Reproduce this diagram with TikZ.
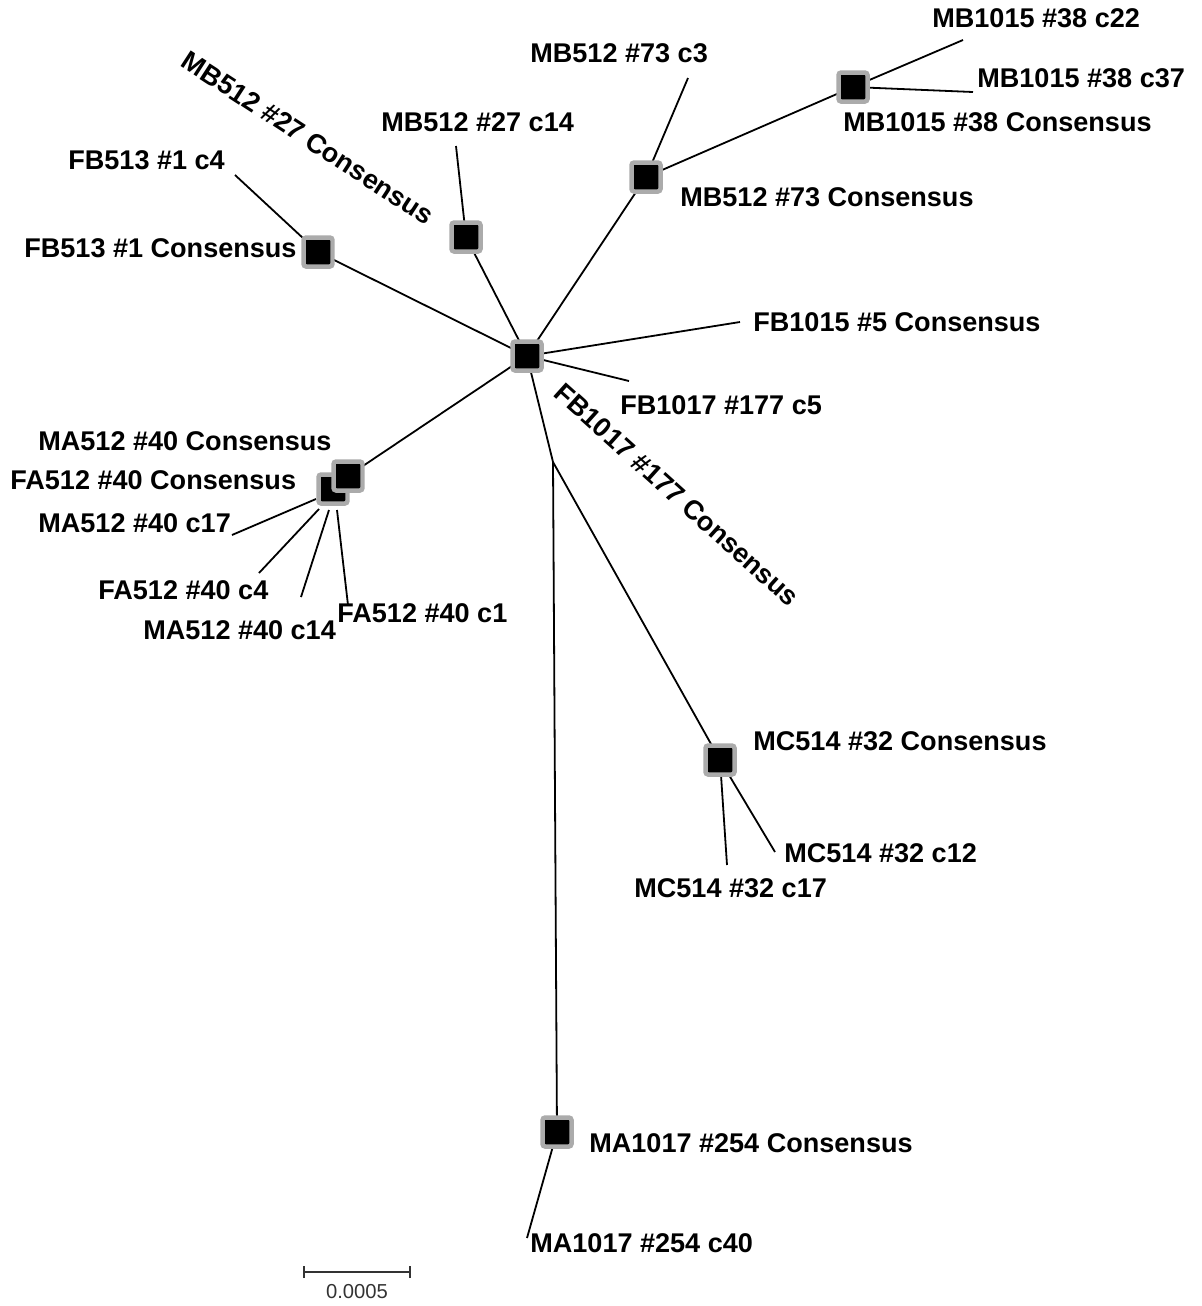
\documentclass[tikz,border=0pt]{standalone}
\usepackage{fontspec}
\setmainfont{Liberation Sans}
\usetikzlibrary{backgrounds}
\begin{document}
\begin{tikzpicture}[x=0.02cm,y=-0.02cm,
  sq/.style={rectangle,draw=black!33,fill=black,line width=0.09cm,minimum size=0.58cm,inner sep=0pt,rounded corners=1.5pt},
  lbl/.style={inner sep=0pt,anchor=west,font=\fontsize{15.4}{17}\selectfont\bfseries},
  br/.style={line width=0.036cm,black},
  sc/.style={line width=0.04cm,black!80}]
\useasboundingbox (0,0) rectangle (1202,1306);
% internal node and nodes (squares)
\coordinate (inner) at (553,462);
\node[sq] (fa512) at (333,489) {};
\node[sq] (ma512) at (348,476) {};
\node[sq] (C) at (527,356) {};
\node[sq] (fb513) at (318,252) {};
\node[sq] (mb27) at (466,237) {};
\node[sq] (mb73) at (646,177) {};
\node[sq] (mb1015) at (853,87) {};
\node[sq] (mc514) at (720,760) {};
\node[sq] (ma1017) at (557,1132) {};
% leaf ends
\coordinate (l1) at (235,175);
\coordinate (l2) at (456,146);
\coordinate (l3) at (688,78);
\coordinate (l4) at (963,40);
\coordinate (l5) at (973,92);
\coordinate (l6) at (740,322);
\coordinate (l7) at (629,381);
\coordinate (l8) at (232,535);
\coordinate (l9) at (259,573);
\coordinate (l10) at (301,597);
\coordinate (l11) at (348,605);
\coordinate (l12) at (775,852);
\coordinate (l13) at (727,865);
\coordinate (l14) at (527,1238);
\coordinate (s8) at (316,499);
\coordinate (s9) at (319,509);
\coordinate (s10) at (329,510);
\coordinate (s11) at (337,510);
\begin{scope}[on background layer]
\draw[br] (C.center) -- (fb513.center);
\draw[br] (fb513.center) -- (l1);
\draw[br] (C.center) -- (mb27.center);
\draw[br] (mb27.center) -- (l2);
\draw[br] (C.center) -- (mb73.center);
\draw[br] (mb73.center) -- (l3);
\draw[br] (mb73.center) -- (mb1015.center);
\draw[br] (mb1015.center) -- (l4);
\draw[br] (mb1015.center) -- (l5);
\draw[br] (C.center) -- (l6);
\draw[br] (C.center) -- (l7);
\draw[br] (C.center) -- (ma512.center);
\draw[br] (s8) -- (l8);
\draw[br] (s9) -- (l9);
\draw[br] (s10) -- (l10);
\draw[br] (s11) -- (l11);
\draw[br] (C.center) -- (inner);
\draw[br] (inner) -- (mc514.center);
\draw[br] (inner) -- (ma1017.center);
\draw[br] (mc514.center) -- (l12);
\draw[br] (mc514.center) -- (l13);
\draw[br] (ma1017.center) -- (l14);
\end{scope}
% labels
\node[lbl] (t1) at (68,160) {FB513 \#1 c4};
\node[lbl] (t2) at (24,248) {FB513 \#1 Consensus};
\node[lbl] (t3) at (381,122) {MB512 \#27 c14};
\node[lbl] (t4) at (530,53) {MB512 \#73 c3};
\node[lbl] (t5) at (680,197) {MB512 \#73 Consensus};
\node[lbl] (t6) at (932,18) {MB1015 \#38 c22};
\node[lbl] (t7) at (977,78) {MB1015 \#38 c37};
\node[lbl] (t8) at (843,122) {MB1015 \#38 Consensus};
\node[lbl] (t9) at (753,322) {FB1015 \#5 Consensus};
\node[lbl] (t10) at (620,405) {FB1017 \#177 c5};
\node[lbl] (t11) at (38,441) {MA512 \#40 Consensus};
\node[lbl] (t12) at (10,480) {FA512 \#40 Consensus};
\node[lbl] (t13) at (38,523) {MA512 \#40 c17};
\node[lbl] (t14) at (98,590) {FA512 \#40 c4};
\node[lbl] (t15) at (143,630) {MA512 \#40 c14};
\node[lbl] (t16) at (337,613) {FA512 \#40 c1};
\node[lbl] (t17) at (753,741) {MC514 \#32 Consensus};
\node[lbl] (t18) at (784,853) {MC514 \#32 c12};
\node[lbl] (t19) at (634,888) {MC514 \#32 c17};
\node[lbl] (t20) at (589,1143) {MA1017 \#254 Consensus};
\node[lbl] (t21) at (530,1243) {MA1017 \#254 c40};
\node[lbl,anchor=center,rotate=-33] (t22) at (308,138) {MB512 \#27 Consensus};
\node[lbl,anchor=center,rotate=-42] (t23) at (677,495) {FB1017 \#177 Consensus};
% scale bar
\coordinate (sa) at (304,1272);
\coordinate (sb) at (410,1272);
\draw[sc] (sa) -- (sb);
\draw[sc] ([yshift=-0.12cm]sa) -- ([yshift=0.12cm]sa);
\draw[sc] ([yshift=-0.12cm]sb) -- ([yshift=0.12cm]sb);
\node[inner sep=0pt,text=black!80,font=\fontsize{11.5}{13}\selectfont] (scl) at (357,1292) {0.0005};
\end{tikzpicture}
\end{document}
